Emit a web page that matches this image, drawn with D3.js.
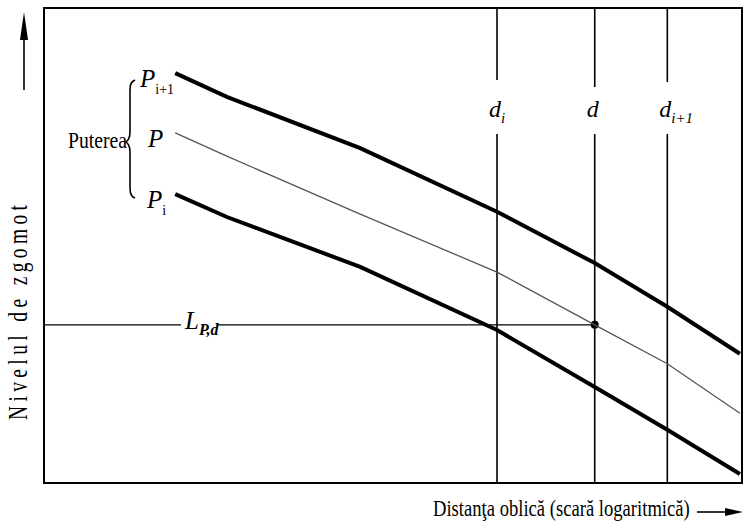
<!DOCTYPE html>
<html>
<head>
<meta charset="utf-8">
<script src="https://cdn.jsdelivr.net/npm/d3@7"></script>
<style>
  body { margin: 0; background: #fff; }
  text { font-family: "Liberation Serif", "Times New Roman", serif; fill: #000; }
</style>
</head>
<body>
<div id="container"></div>
<script>
// distance along the (log) x axis, and the noise level for each power curve
const distance   = [1.88, 2.62, 4.53, 6.49, 7.89, 8.93, 9.97];
const levelUpper = [8.63, 8.13, 7.05, 5.71, 4.63, 3.71, 2.72];   // P i+1
const levelP     = [7.37, 6.88, 5.66, 4.44, 3.33, 2.51, 1.47];   // P
const levelLower = [6.08, 5.60, 4.55, 3.22, 2.02, 1.12, 0.19];   // P i

const markNames  = ["i", "", "i+1"];
const markDist   = [6.49, 7.89, 8.93];
const levelLPd   = 3.33;

const w = 744, h = 528;
const margin = {top: 8, left: 44, bottom: 45, right: 2};
const graphWidth = w - margin.left - margin.right;
const graphHeight = h - margin.top - margin.bottom;

const svg = d3.select("#container").append("svg").attr("width", w).attr("height", h);
const graph = svg.append("g").attr("transform", `translate(${margin.left}, ${margin.top})`);

const xScale = d3.scaleLinear().domain([0, 10]).range([0, graphWidth]);
const yScale = d3.scaleLinear().domain([0, 10]).range([graphHeight, 0]);

// squeeze a text to a given width (the original uses a condensed face)
function condensed(sel, x, y, width, rotate) {
  const natural = sel.node().getComputedTextLength();
  sel.attr("transform", `translate(${x}, ${y})${rotate ? " rotate(-90)" : ""} scale(${width / natural}, 1)`);
}

// frame
graph.append("rect")
  .attr("width", graphWidth).attr("height", graphHeight)
  .attr("fill", "none").attr("stroke", "#000").attr("stroke-width", 2);

// vertical distance markers, broken around their labels
markDist.forEach((d, i) => {
  const x = xScale(d);
  const gapTop = [72, 79, 74][i], gapBottom = 126;
  graph.append("line").attr("x1", x).attr("x2", x).attr("y1", 0).attr("y2", gapTop)
    .attr("stroke", "#000").attr("stroke-width", 1.6);
  graph.append("line").attr("x1", x).attr("x2", x).attr("y1", gapBottom).attr("y2", graphHeight)
    .attr("stroke", "#000").attr("stroke-width", 1.6);
  const t = graph.append("text").attr("x", x - 8).attr("y", 109)
    .attr("font-size", 24).attr("font-style", "italic");
  t.append("tspan").text("d");
  if (markNames[i]) t.append("tspan").attr("dy", 6).attr("font-size", 15).text(markNames[i]);
});

// L P,d horizontal
const yL = yScale(levelLPd);
graph.append("line").attr("x1", 0).attr("x2", 137).attr("y1", yL).attr("y2", yL)
  .attr("stroke", "#000").attr("stroke-width", 1.4);
graph.append("line").attr("x1", 173).attr("x2", xScale(markDist[1])).attr("y1", yL).attr("y2", yL)
  .attr("stroke", "#000").attr("stroke-width", 1.4);
const lt = graph.append("text").attr("x", 141).attr("y", yL + 4)
  .attr("font-size", 25).attr("font-style", "italic");
lt.append("tspan").text("L");
lt.append("tspan").attr("dy", 6).attr("font-size", 16).attr("font-weight", "bold").text("P,d");
graph.append("circle").attr("cx", xScale(markDist[1])).attr("cy", yL).attr("r", 4).attr("fill", "#000");

// curves
const line = d3.line().x((d, i) => xScale(distance[i])).y(d => yScale(d));
graph.append("path").datum(levelUpper).attr("d", line)
  .attr("fill", "none").attr("stroke", "#000").attr("stroke-width", 4);
graph.append("path").datum(levelP).attr("d", line)
  .attr("fill", "none").attr("stroke", "#555").attr("stroke-width", 1.3);
graph.append("path").datum(levelLower).attr("d", line)
  .attr("fill", "none").attr("stroke", "#000").attr("stroke-width", 4);

// curve labels
function pLabel(level, sub, dx) {
  const t = graph.append("text").attr("x", 96 + dx).attr("y", yScale(level) + 14)
    .attr("font-size", 25).attr("font-style", "italic");
  t.append("tspan").text("P");
  if (sub) t.append("tspan").attr("dy", 7).attr("font-size", 14).attr("font-style", "normal").text(sub);
}
pLabel(levelUpper[0], "i+1", 0);
pLabel(levelP[0], "", 8);
pLabel(levelLower[0], "i", 7);

// brace
const bx = 91, by0 = 72, by1 = 190, bm = 134;
graph.append("path")
  .attr("d", `M${bx},${by0} C${bx - 5},${by0 + 2} ${bx - 5},${by0 + 6} ${bx - 5},${by0 + 14}
              L${bx - 5},${bm - 10} C${bx - 5},${bm - 3} ${bx - 8},${bm} ${bx - 10},${bm}
              C${bx - 8},${bm} ${bx - 5},${bm + 3} ${bx - 5},${bm + 10}
              L${bx - 5},${by1 - 14} C${bx - 5},${by1 - 6} ${bx - 5},${by1 - 2} ${bx},${by1}`)
  .attr("fill", "none").attr("stroke", "#000").attr("stroke-width", 1.6);
condensed(graph.append("text").attr("font-size", 24).text("Puterea"), 24, 140, 59);

// axis titles with arrows
svg.append("text")
  .attr("transform", "translate(27, 420) rotate(-90) scale(0.72, 1)")
  .attr("font-size", 27).attr("textLength", 215 / 0.72).attr("lengthAdjust", "spacing")
  .text("Nivelul de zgomot");
svg.append("line").attr("x1", 24).attr("x2", 24).attr("y1", 90).attr("y2", 36)
  .attr("stroke", "#000").attr("stroke-width", 1.6);
svg.append("path").attr("d", "M24,12 L20,40 L28,40 Z").attr("fill", "#000");

condensed(svg.append("text").attr("font-size", 23).text("Distanţa oblică (scară logaritmică)"), 433, 516, 257);
svg.append("line").attr("x1", 697).attr("x2", 728).attr("y1", 512).attr("y2", 512)
  .attr("stroke", "#000").attr("stroke-width", 1.6);
svg.append("path").attr("d", "M743,512 L725,508 L725,516 Z").attr("fill", "#000");
</script>
</body>
</html>
